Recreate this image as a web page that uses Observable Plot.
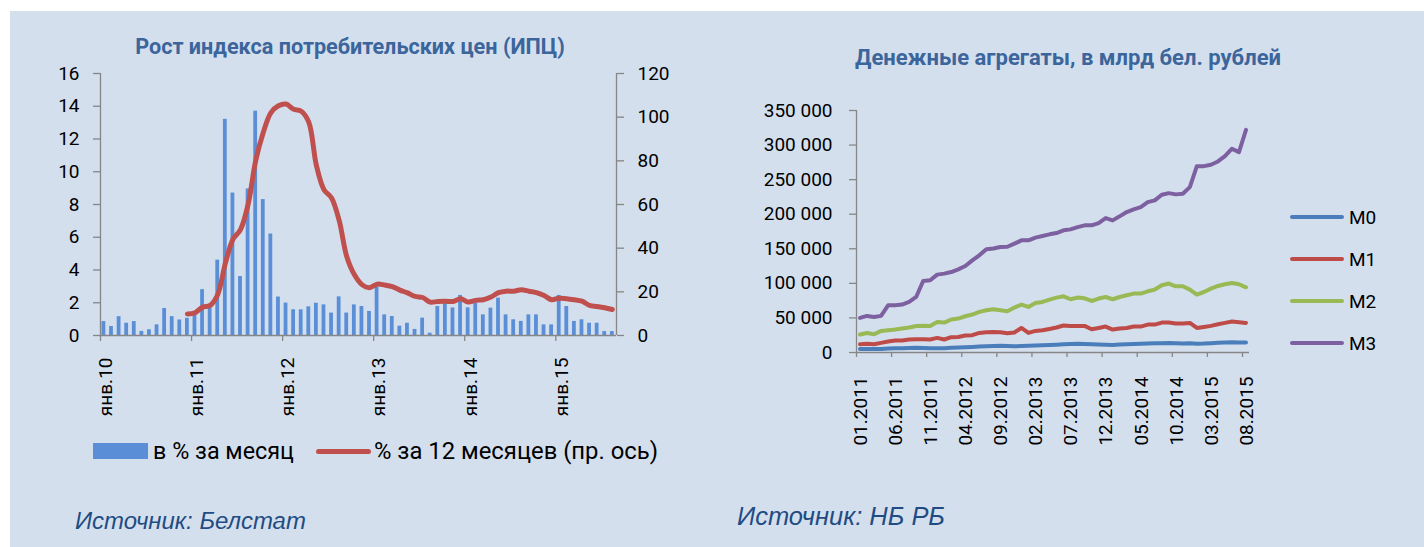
<!DOCTYPE html>
<html><head><meta charset="utf-8">
<script src="https://cdn.jsdelivr.net/npm/d3@7"></script>
<script src="https://cdn.jsdelivr.net/npm/@observablehq/plot@0.6"></script>
<style>
body{margin:0;background:#fff;}
#root{position:relative;width:1424px;height:547px;overflow:hidden;background:#fff;font-family:Roboto,"Noto Sans",sans-serif;}
.panel{position:absolute;background:#D4DFEE;}
.abs{position:absolute;white-space:nowrap;line-height:1;}
.plot{position:absolute;top:0;}
</style></head><body><div id="root"></div>
<script>
// ---- Left chart: CPI ----
const cpiTickLabels = ["янв.10","янв.11","янв.12","янв.13","янв.14","янв.15"];
// monthly CPI, % (Jan 2010 .. Aug 2015)
const cpiMonthly = [0.85,0.55,1.15,0.75,0.85,0.25,0.35,0.65,1.65,1.15,0.95,1.05,
 1.3,2.8,1.7,4.6,13.2,8.7,3.6,8.95,13.7,8.3,6.2,2.35,
 1.98,1.57,1.57,1.75,1.97,1.87,1.37,2.36,1.37,1.87,1.77,1.47,
 2.96,1.26,1.16,0.57,0.75,0.37,1.06,0.14,1.77,1.95,1.68,2.45,
 1.69,1.98,1.26,1.67,2.28,1.26,0.96,0.86,1.26,1.26,0.65,0.65,
 2.45,1.77,0.86,0.96,0.75,0.75,0.24,0.24];
// 12-month CPI, % (Dec 2010 .. Aug 2015), right axis
const cpiYoYStart = 11;
const cpiYoY = [9.9,10.4,13,13.8,18.8,33,44,48.5,60,80,93,102,105.2,
 106,103.6,102.7,97.7,77.9,66.8,63,52.7,36.2,27.9,23.3,21.9,
 23.5,23.1,22.4,20.8,19.5,17.9,17.4,15.3,15.6,15.7,15.6,16.8,
 15.3,16.1,16.4,17.6,19.6,20.3,20.3,20.9,20.3,19.6,18.3,16.4,
 17.1,16.8,16.4,15.7,13.8,13.3,12.7,11.9];
const leftTicks = [0,2,4,6,8,10,12,14,16];
const rightTicks = [0,20,40,60,80,100,120];

// ---- Right chart: money aggregates (01.2011 .. 08.2015) ----
const moneyTickLabels = ["01.2011","06.2011","11.2011","04.2012","09.2012","02.2013","07.2013","12.2013","05.2014","10.2014","03.2015","08.2015"];
const seriesNames = ["M0","M1","M2","M3"];
const M0 = [5200,5000,5000,5200,5800,6000,6200,6400,6800,6500,6200,6200,6300,6800,7200,7600,8000,8600,9000,9400,9600,9300,
 9000,9300,9600,10000,10400,10800,11300,12000,12300,12500,12200,12000,11500,11200,11000,11400,12000,12300,12600,12900,13200,13400,13600,13300,13000,13200,12800,12900,13500,14200,14600,14800,14600,14400];
const M1 = [12000,12500,12000,13900,15800,17300,17300,18800,19300,19300,18800,21100,18800,22100,22500,24500,25000,28300,29300,29800,29300,27800,
 28900,35500,28300,31200,32200,34100,36100,39000,38500,38500,38500,33700,35500,37500,33200,34700,35500,37500,37500,40400,40400,43300,43300,41900,41900,42800,35500,37000,38500,40900,42800,44800,43800,42800];
const M2 = [26000,28300,26400,31200,32200,33200,34700,36100,38400,38600,38400,44200,43300,47700,49100,52400,54900,58700,61100,62500,61100,59700,
 65000,69300,65900,71600,73100,76500,79400,81300,77000,79400,78400,74500,78000,80300,77000,80300,82800,85200,85200,88500,91000,97200,99700,95800,95800,91000,83800,87500,92400,96200,98700,100500,98700,94300];
const M3 = [50000,52900,51400,53000,68300,68300,69300,73100,80300,103400,104400,112600,114100,116400,120300,125100,133300,140500,149200,150500,152500,153000,
 157400,162200,162200,166100,168400,170900,172800,176700,178100,181400,183900,183900,187200,194400,191100,196900,203100,207000,210300,217500,220000,228200,230500,228700,229700,239200,269500,269500,271600,276300,284000,294700,289800,322100];
const moneyTicks = [0,50000,100000,150000,200000,250000,300000,350000];
const seriesColors = ["#4A7EBB","#BE4B48","#98B954","#7D60A0"];

const barColor = "#5A8FD8", redColor = "#C0504D", axisColor = "#868686";
const titleColor = "#3B659B", sourceColor = "#1F4C82";

const root = document.getElementById("root");
function panel(l,t,w,h){const d=document.createElement("div");d.className="panel";Object.assign(d.style,{left:l+"px",top:t+"px",width:w+"px",height:h+"px"});root.appendChild(d);}
panel(10,11,1414,536);

// ---- Left plot ----
const ratio = 16/120;
const bars = cpiMonthly.map((v,i)=>({i,v}));
const yoy = cpiYoY.map((v,k)=>({i:k+cpiYoYStart, v:v*ratio}));
const nMonthsL = cpiMonthly.length;
const leftPlot = Plot.plot({
  width:712, height:440, marginLeft:100, marginRight:96, marginTop:73, marginBottom:105,
  x:{domain:[0,nMonthsL], axis:null},
  y:{domain:[0,16], axis:null},
  style:{background:"transparent", fontFamily:"Roboto", fontSize:"19px", color:"#000", overflow:"visible"},
  marks:[
    Plot.rectY(bars,{x1:d=>d.i+0.2, x2:d=>d.i+0.7, y1:0, y2:"v", fill:barColor}),
    Plot.line(yoy,{x:d=>d.i+0.45, y:"v", stroke:redColor, strokeWidth:5, curve:"catmull-rom", strokeLinecap:"round", strokeLinejoin:"round"}),
    Plot.ruleX([0,nMonthsL],{stroke:axisColor, strokeWidth:1.3}),
    Plot.ruleY([0],{stroke:axisColor, strokeWidth:1.3}),
    Plot.axisY({anchor:"left", label:null, ticks:leftTicks, tickSize:7, tickPadding:14, stroke:axisColor, strokeWidth:1.3, color:"#000", tickFormat:d=>String(d)}),
    Plot.axisY({anchor:"right", label:null, ticks:rightTicks.map(v=>v*ratio), tickSize:7, tickPadding:14, stroke:axisColor, strokeWidth:1.3, color:"#000", tickFormat:d=>String(Math.round(d/ratio))}),
    Plot.axisX({label:null, ticks:cpiTickLabels.map((_,k)=>k*12), tickSize:6, stroke:axisColor, strokeWidth:1.3, tickFormat:()=>""}),
    Plot.axisX({label:null, ticks:cpiTickLabels.map((_,k)=>k*12+0.75), tickSize:0, tickPadding:22, tickRotate:-90, color:"#000", tickFormat:d=>cpiTickLabels[Math.round((d-0.75)/12)]})
  ]
});
leftPlot.classList.add("plot"); leftPlot.style.left="0px";
root.appendChild(leftPlot);

// ---- Right plot ----
const nMonthsR = M0.length;
const moneyData = [];
seriesNames.forEach((s,k)=>{[M0,M1,M2,M3][k].forEach((v,i)=>moneyData.push({s,i,v}));});
const fmt = d=> d===0 ? "0" : d3.format(",")(d).replace(/,/g," ");
const rightPlot = Plot.plot({
  width:712, height:460, marginLeft:144, marginRight:175, marginTop:110, marginBottom:108,
  x:{domain:[0,nMonthsR], axis:null},
  y:{domain:[0,350000], axis:null},
  color:{domain:seriesNames, range:seriesColors},
  style:{background:"transparent", fontFamily:"Roboto", fontSize:"19px", color:"#000", overflow:"visible"},
  marks:[
    Plot.ruleX([0],{stroke:axisColor, strokeWidth:1.3}),
    Plot.ruleY([0],{stroke:axisColor, strokeWidth:1.3}),
    Plot.line(moneyData,{x:d=>d.i+0.5, y:"v", z:"s", stroke:"s", strokeWidth:4, strokeLinecap:"round", strokeLinejoin:"round"}),
    Plot.axisY({anchor:"left", label:null, ticks:moneyTicks, tickSize:7, tickPadding:17, stroke:axisColor, strokeWidth:1.3, color:"#000", tickFormat:fmt}),
    Plot.axisX({label:null, ticks:moneyTickLabels.map((_,k)=>k*5), tickSize:5, stroke:axisColor, strokeWidth:1.3, tickFormat:()=>""}),
    Plot.axisX({label:null, ticks:moneyTickLabels.map((_,k)=>k*5+0.6), tickSize:0, tickPadding:24, tickRotate:-90, color:"#000", tickFormat:d=>moneyTickLabels[Math.round((d-0.6)/5)]})
  ]
});
rightPlot.classList.add("plot"); rightPlot.style.left="712px";
root.appendChild(rightPlot);

// ---- Texts ----
function text(str,{x,y,anchor="start",size=19,weight="normal",style="normal",color="#000",family=null,fitWidth=null}){
  const d=document.createElement("div"); d.className="abs"; d.textContent=str;
  Object.assign(d.style,{left:x+"px",top:y+"px",fontSize:size+"px",fontWeight:weight,fontStyle:style,color});
  if(family) d.style.fontFamily=family;
  root.appendChild(d);
  if(fitWidth){const w=d.getBoundingClientRect().width; d.style.fontSize=(size*fitWidth/w)+"px";}
  d.style.transform = (anchor==="middle"?"translate(-50%,-50%)":"translate(0,-50%)");
  return d;
}
text("Рост индекса потребительских цен (ИПЦ)",{x:350,y:47,anchor:"middle",size:19,weight:"bold",color:titleColor,fitWidth:430});
text("Денежные агрегаты, в млрд бел. рублей",{x:1068,y:58,anchor:"middle",size:19,weight:"bold",color:titleColor,fitWidth:426});

// left legend
function swatch(l,t,w,h,c,r=0){const d=document.createElement("div");Object.assign(d.style,{position:"absolute",left:l+"px",top:t+"px",width:w+"px",height:h+"px",background:c,borderRadius:r+"px"});root.appendChild(d);}
swatch(93,443,55,16,barColor);
text("в % за месяц",{x:153,y:452,size:22,fitWidth:141});
swatch(316,449,55,5,redColor,2.5);
text("% за 12 месяцев (пр. ось)",{x:374,y:452,size:22,fitWidth:284});

// right legend
const legY=[217,259,301,343];
seriesNames.forEach((s,k)=>{swatch(1290,legY[k]-2,54,4,seriesColors[k],2);text(s,{x:1349,y:legY[k],size:19});});

// sources
text("Источник: Белстат",{x:75,y:521,size:22,style:"italic",color:sourceColor,family:"'Liberation Sans',Arial,sans-serif",fitWidth:231});
text("Источник: НБ РБ",{x:737,y:517,size:22,style:"italic",color:sourceColor,family:"'Liberation Sans',Arial,sans-serif",fitWidth:208});
</script></body></html>
